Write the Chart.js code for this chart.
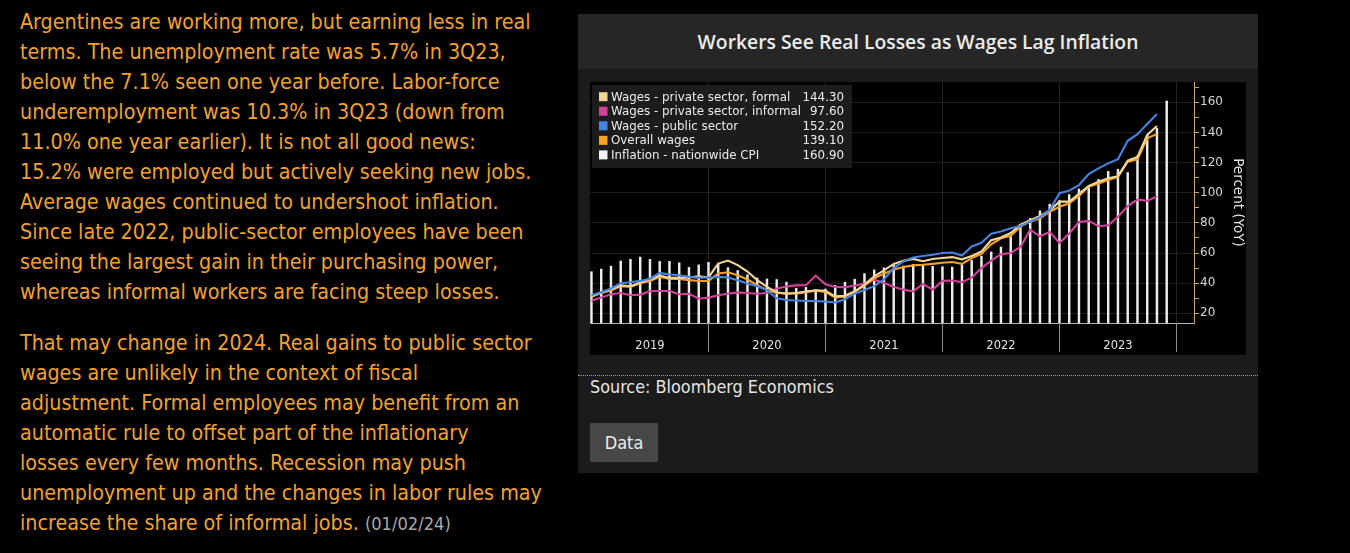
<!DOCTYPE html>
<html><head><meta charset="utf-8">
<script src="https://cdn.jsdelivr.net/npm/chart.js@4.4.1/dist/chart.umd.min.js"></script>
<style>
html,body{margin:0;padding:0;background:#000;width:1350px;height:553px;overflow:hidden;}
.para{position:absolute;left:20px;color:rgb(242,160,48);font-family:"DejaVu Sans";font-stretch:condensed;font-size:18.5px;line-height:30px;white-space:nowrap;}
.para span.d{color:#a8a8a8;font-size:0.85em;}
#p1{top:7px;} #p2{top:328px;}
#panel{position:absolute;left:578px;top:14px;width:680px;height:459px;background:#1b1b1b;}
#hdr{position:absolute;left:578px;top:14px;width:680px;height:55px;background:#262626;color:#ececec;font-family:"Open Sans";font-weight:600;font-size:17.5px;line-height:55px;text-align:center;white-space:nowrap;}
#plotbg{position:absolute;left:590px;top:82px;width:656px;height:273px;background:#000;}
#cv{position:absolute;left:590px;top:82px;}
#dots{position:absolute;left:578px;top:375px;width:680px;border-top:1px dotted #a0a0a0;}
#src{position:absolute;left:590px;top:376px;color:#e6e6e6;font-family:"DejaVu Sans";font-stretch:condensed;font-size:17px;line-height:22px;white-space:nowrap;}
#btn{position:absolute;left:590px;top:423px;width:68px;height:39px;background:#474747;color:#ececec;font-family:"DejaVu Sans";font-stretch:condensed;font-size:18px;line-height:39px;text-align:center;}
</style></head><body>
<div class="para" id="p1"><span id="l1">Argentines are working more, but earning less in real</span><br>terms. The unemployment rate was 5.7% in 3Q23,<br>below the 7.1% seen one year before. Labor-force<br>underemployment was 10.3% in 3Q23 (down from<br>11.0% one year earlier). It is not all good news:<br>15.2% were employed but actively seeking new jobs.<br>Average wages continued to undershoot inflation.<br>Since late 2022, public-sector employees have been<br>seeing the largest gain in their purchasing power,<br>whereas informal workers are facing steep losses.</div>
<div class="para" id="p2">That may change in 2024. Real gains to public sector<br>wages are unlikely in the context of fiscal<br>adjustment. Formal employees may benefit from an<br>automatic rule to offset part of the inflationary<br>losses every few months. Recession may push<br><span id="l2">unemployment up and the changes in labor rules may</span><br>increase the share of informal jobs. <span class="d">(01/02/24)</span></div>
<div id="panel"></div>
<div id="hdr"><span id="ttl">Workers See Real Losses as Wages Lag Inflation</span></div>
<div id="plotbg"></div>
<canvas id="cv" width="656" height="273"></canvas>
<div id="dots"></div>
<div id="src"><span id="srct">Source: Bloomberg Economics</span></div>
<div id="btn">Data</div>
<script>
// Monthly, Dec 2018 .. Nov 2023 (index 0 = Dec 2018)
const years = ['2019','2020','2021','2022','2023'];
const cpi = [47.6,49.3,51.3,54.7,55.8,57.3,55.8,54.4,54.5,53.5,50.5,52.1,53.8,52.9,50.3,48.4,45.6,43.4,42.8,42.4,40.7,36.6,37.2,35.8,36.1,38.5,40.7,42.6,46.3,48.8,50.2,51.8,51.4,52.5,52.1,51.2,50.9,50.7,52.3,55.1,58.0,60.7,64.0,71.0,78.5,83.0,88.0,92.4,94.8,98.8,102.5,104.3,108.8,114.2,115.6,113.4,124.4,138.3,142.7,160.9];
const wagesPublic = [32,34,36.5,40,40.6,41.5,43,46.8,45.7,45.3,44.2,43.5,43.8,44.2,43.8,42,39.8,38,35.4,30,28.8,28.5,28.2,28.1,27.8,27.2,29.3,33,35.5,38,42.5,50,54.5,57,58,58.8,60,60.3,58.3,64.4,66.8,72.8,74.3,76.5,78,80.9,83.8,88.6,99.7,101.4,105.1,112.4,116.2,119.5,122.2,134.5,138.9,145.6,152.2];
const wagesOverall = [31,33.5,35.2,37.9,37.5,40,41.4,44.2,42.8,42.8,42,41.4,41.4,46.4,47.2,45.3,42.4,38.7,35.4,33.5,33.2,33.2,34,35,34.2,30.4,31.1,34.2,38.3,43.2,46.3,49,50.7,51.8,52.2,52.8,53.5,54,52.8,56.6,59.5,65.8,69.8,71.4,77.5,80.8,83,87.4,90.7,93,97.8,104,106.2,108.4,110.6,120.6,122.2,136.1,139.1];
const wagesFormal = [31.5,34,36,38.5,38,40.5,42.5,45,43.5,43.5,43.8,44.6,43.8,53,55,52,47.7,42,37.5,34,33,33.5,34.5,35.3,35,31.2,31.6,34.6,39,44.6,48.5,52.8,54.8,56.1,54.6,56,56.7,57.3,55.8,58,61,68.5,70.3,73.3,78.8,81.8,84.6,88.3,94.1,94.1,99.3,104.6,107.3,109.6,111,121.3,123.8,138.4,144.3];
const wagesInformal = [28.4,30.4,32.6,33.5,32,32.4,34.6,34.8,34.8,32.6,33,29.7,30.4,32,33,33.9,33.5,33,33.5,36.4,37.8,38.5,38.6,45,39.3,37.5,37.4,38.3,39.8,42.3,40.1,37.6,35.7,34.5,39.5,35.7,41.5,41.8,40.6,43.6,50,55,59.2,60,64,75.5,71.1,74,66.7,72.9,80.6,81.3,77.8,78.4,84,91.1,95.5,94.6,97.6];
const seriesLabels = ['Wages - private sector, formal','Wages - private sector, informal','Wages - public sector','Overall wages','Inflation - nationwide CPI'];
const seriesColors = ['#f3d594','#d2419a','#4683e2','#f4a124','#f2f2f2'];

// fit text widths to reference
function fit(el, ref, target){
  const fs = parseFloat(getComputedStyle(el).fontSize);
  const w = ref.getBoundingClientRect().width;
  el.style.fontSize = (fs*target/w)+'px';
}
const p1 = document.getElementById('p1'), p2 = document.getElementById('p2');
fit(p1, document.getElementById('l1'), 517);
p2.style.fontSize = p1.style.fontSize;
fit(p2, document.getElementById('l2'), 516);
const avg = (parseFloat(p1.style.fontSize)+parseFloat(p2.style.fontSize))/2;
p1.style.fontSize = p2.style.fontSize = avg+'px';
fit(document.getElementById('hdr'), document.getElementById('ttl'), 441);
fit(document.getElementById('src'), document.getElementById('srct'), 244);

const toXY = arr => arr.map((v,i)=>({x:i,y:v}));
const FONT = '"DejaVu Sans"';

const legendPlugin = {
  id:'legendBox',
  afterDraw(chart){
    const c = chart.ctx;
    c.save();
    c.fillStyle = 'rgba(30,30,30,0.92)';
    c.fillRect(2,3,260,83);
    c.font = '13px ' + FONT;
    const k = Math.min(1, 190 / c.measureText(seriesLabels[1]).width);
    const vals = [wagesFormal, wagesInformal, wagesPublic, wagesOverall, cpi].map(a => a[a.length-1].toFixed(2));
    c.textBaseline = 'middle';
    seriesLabels.forEach((lab,i)=>{
      const y = 14.7 + i*14.55;
      c.fillStyle = seriesColors[i];
      c.fillRect(9,y-4.5,8.5,9);
      c.fillStyle = '#ececec';
      c.textAlign = 'left';
      c.fillText(lab, 21, y+0.5, c.measureText(lab).width*k);
      c.textAlign = 'right';
      c.fillText(vals[i], 254, y+0.5, c.measureText(vals[i]).width*k);
    });
    c.restore();
  }
};
const sepPlugin = {
  id:'yearSep',
  afterDraw(chart){
    const c = chart.ctx, xs = chart.scales.x, b = chart.chartArea.bottom;
    c.save();
    c.strokeStyle = '#8c8c8c'; c.lineWidth = 1;
    [12,24,36,48,60].forEach(v=>{
      const px = Math.round(xs.getPixelForValue(v))+0.5;
      c.beginPath(); c.moveTo(px,b); c.lineTo(px,b+29); c.stroke();
    });
    c.restore();
  }
};

const lineDs = (label, arr, color, order) => ({type:'line', label, data:toXY(arr), borderColor:color, backgroundColor:color, borderWidth:2.1, pointRadius:0, tension:0, order});

new Chart(document.getElementById('cv'), {
  type:'line',
  data:{datasets:[
    lineDs(seriesLabels[2], wagesPublic, seriesColors[2], 1),
    lineDs(seriesLabels[0], wagesFormal, seriesColors[0], 2),
    lineDs(seriesLabels[3], wagesOverall, seriesColors[3], 3),
    lineDs(seriesLabels[1], wagesInformal, seriesColors[1], 4),
    {type:'bar', label:seriesLabels[4], data:toXY(cpi), backgroundColor:'#ededed', borderWidth:0, barThickness:1.8, maxBarThickness:2, order:10}
  ]},
  options:{
    responsive:false, animation:false, devicePixelRatio:1,
    layout:{padding:0, autoPadding:false},
    plugins:{legend:{display:false}, tooltip:{enabled:false}},
    scales:{
      x:{type:'linear', min:-0.15, max:61.8, offset:false,
        afterFit:s=>{s.height=32; s.paddingLeft=0; s.paddingRight=0;},
        afterBuildTicks:s=>{s.ticks=[0,6,12,18,24,30,36,42,48,54,60].map(v=>({value:v}));},
        grid:{offset:false, drawTicks:false, color:c=>(c.tick && c.tick.value>0 && c.tick.value%12===0)?'#232323':'transparent'},
        border:{color:'#b4b4b4', width:1},
        ticks:{padding:16, color:'#e2e2e2', font:{family:FONT, size:11.5}, maxRotation:0, autoSkip:false,
          callback:v=> v%12===6 ? years[(v-6)/12] : ''}
      },
      y:{position:'right', min:13.56, max:173.5,
        afterFit:s=>{s.width=52; s.paddingTop=0; s.paddingBottom=0;},
        afterBuildTicks:s=>{const t=[];for(let v=20;v<=170;v+=10)t.push({value:v});s.ticks=t;},
        grid:{color:c=>(c.tick && c.tick.value%20===0)?'#1d1d1d':'transparent', tickColor:'#c9a860', tickLength:5},
        border:{color:'#c9a860', width:1},
        ticks:{padding:1, color:'#d6d6d6', font:{family:FONT, size:12}, autoSkip:false,
          callback:v=> v%20===0 ? String(v) : ''},
        title:{display:true, text:'Percent (YoY)', color:'#e2e2e2', font:{family:FONT, size:13.5}, padding:{top:0,bottom:4}}
      }
    }
  },
  plugins:[legendPlugin, sepPlugin]
});
</script>
</body></html>
